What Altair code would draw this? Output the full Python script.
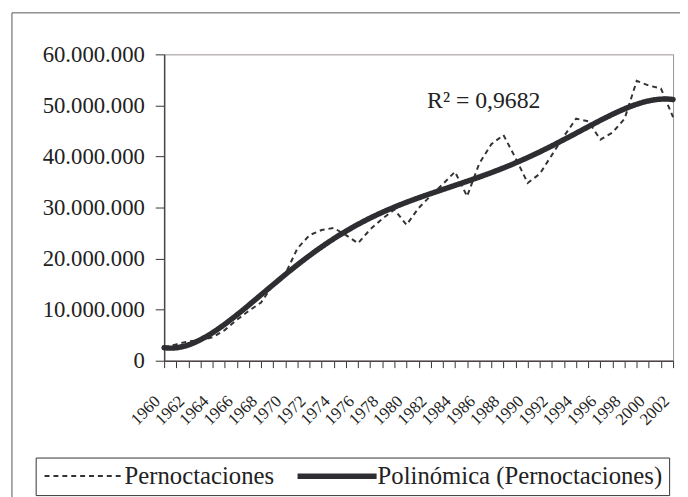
import json
import altair as alt
import pandas as pd

# ---- data ----
years = list(range(1960, 2003))
pernoctaciones = [
    2.6e6, 3.2e6, 3.8e6, 4.0e6, 4.6e6, 6.0e6, 8.0e6, 9.8e6, 11.4e6, 14.9e6,
    17.0e6, 22.0e6, 24.6e6, 25.6e6, 26.0e6, 24.6e6, 23.0e6, 25.7e6, 27.8e6, 29.6e6,
    26.6e6, 29.9e6, 32.3e6, 34.6e6, 37.0e6, 32.2e6, 38.6e6, 42.4e6, 44.2e6, 39.7e6,
    34.8e6, 36.6e6, 40.3e6, 44.0e6, 47.4e6, 46.9e6, 43.3e6, 44.7e6, 47.4e6, 54.8e6,
    53.9e6, 53.3e6, 47.7e6,
]
series_names = ["Pernoctaciones", "Polinómica (Pernoctaciones)"]
y_ticks = [0, 10e6, 20e6, 30e6, 40e6, 50e6, 60e6]
r2_text = ["R² = 0,9682"]
r2_year = [1981.7]
r2_value = [49.5e6]
poly_order = 5

df = pd.DataFrame({"year": years, "v": pernoctaciones})
ann = pd.DataFrame({"year": r2_year, "v": r2_value, "label": r2_text})
box = pd.DataFrame({"k": [0]})

FONT = "Times New Roman, Liberation Serif, Tinos, Nimbus Roman, serif"
INK = "#222222"

x_axis = alt.Axis(
    values=years,
    labelExpr="datum.value % 2 == 0 ? '' + datum.value : ''",
    labelAngle=315, labelAlign="right", labelBaseline="middle",
    labelOffset=-7, labelPadding=31, tickSize=7,
    labelFont=FONT, labelFontSize=17, labelColor=INK,
    labelOverlap=False, labelFlush=False, labelBound=False,
    title=None, grid=False,
)
y_axis = alt.Axis(
    values=y_ticks,
    labelExpr="replace(replace(format(datum.value, ',d'), ',', '.'), ',', '.')",
    tickSize=9, labelPadding=11,
    labelFont=FONT, labelFontSize=23, labelColor=INK,
    labelOverlap=False,
    title=None, grid=False,
)
x_scale = alt.Scale(domain=[years[0], years[-1]], nice=False, zero=False)
y_scale = alt.Scale(domain=[y_ticks[0], y_ticks[-1]], nice=False)


def xe():
    return alt.X("year:Q", scale=x_scale, axis=x_axis)


def ye():
    return alt.Y("v:Q", scale=y_scale, axis=y_axis)


leg = dict(title=None, orient="none", legendX=-130, legendY=408,
           direction="horizontal", columns=2)
color_enc = alt.Color("serie:N",
                      scale=alt.Scale(domain=series_names, range=["#333333", "#2e2e32"]),
                      legend=alt.Legend(**leg))
dash_enc = alt.StrokeDash("serie:N",
                          scale=alt.Scale(domain=series_names, range=[[5, 4], [1, 0]]),
                          legend=alt.Legend(**leg))
width_enc = alt.StrokeWidth("serie:O",
                            scale=alt.Scale(domain=series_names, range=[2, 5.5]),
                            legend=alt.Legend(**leg))

border = alt.Chart(box).mark_rect(fillOpacity=0, stroke="#555555", strokeWidth=1).encode(
    x=alt.value(-154), x2=alt.value(560), y=alt.value(-42), y2=alt.value(500)
)

data_line = (
    alt.Chart(df)
    .transform_calculate(serie=json.dumps(series_names[0]))
    .mark_line()
    .encode(x=xe(), y=ye(), color=color_enc, strokeDash=dash_enc, strokeWidth=width_enc)
)

trend = (
    alt.Chart(df)
    .transform_calculate(t="datum.year - 1960")
    .transform_regression("t", "v", method="poly", order=poly_order)
    .transform_calculate(year="datum.t + 1960", serie=json.dumps(series_names[1]))
    .mark_line(strokeCap="round")
    .encode(x=xe(), y=ye(), color=color_enc, strokeDash=dash_enc, strokeWidth=width_enc)
)

r2 = alt.Chart(ann).mark_text(
    align="left", baseline="alphabetic", font=FONT, fontSize=24, color=INK
).encode(x=xe(), y=ye(), text="label:N")

chart = (
    alt.layer(border, data_line, trend, r2)
    .properties(
        width=515, height=310,
        autosize=alt.AutoSizeParams(type="none"),
        padding={"left": 158, "top": 44, "right": 7, "bottom": 135},
    )
    .configure(font=FONT)
    .configure_view(stroke="#9a9090", strokeWidth=1)
    .configure_axis(domainColor="#4d4545", domainWidth=1.5, tickColor="#333333",
                    tickWidth=1, labelOverlap=False)
    .configure_legend(
        strokeColor="#333333", fillColor="white", padding=6,
        labelFont=FONT, labelFontSize=25, labelColor=INK, labelOffset=58,
        labelLimit=600,
        symbolType="M-1,0H7", symbolSize=400, columnPadding=12,
    )
)

chart.save("out.html", embed_options={"renderer": "svg", "actions": False})
